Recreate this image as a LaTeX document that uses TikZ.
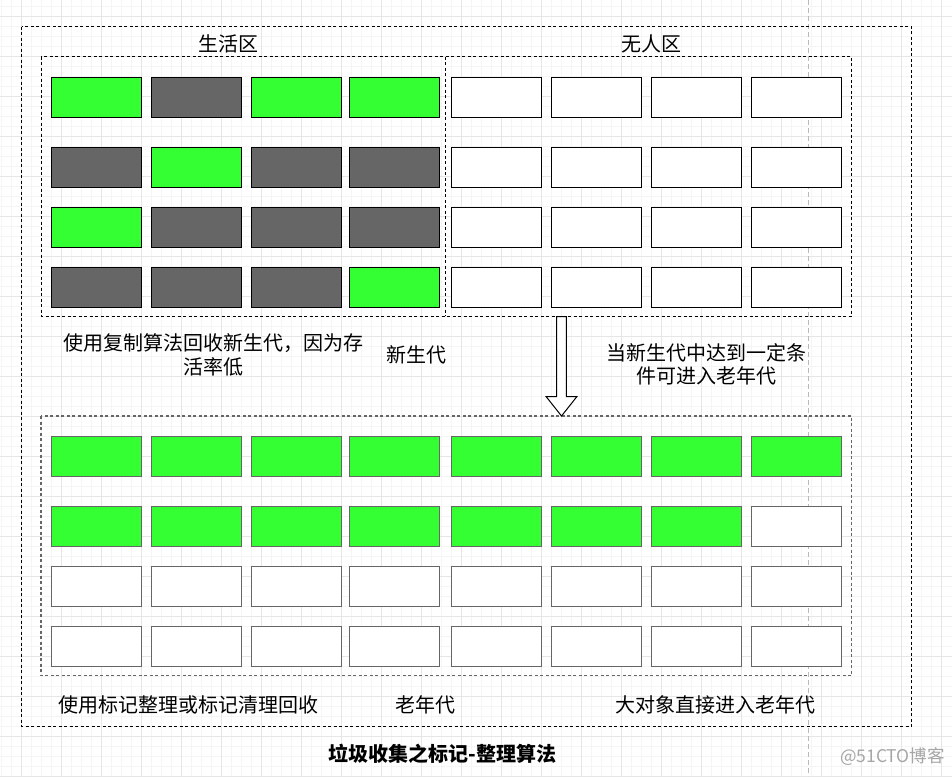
\documentclass[tikz,border=0pt]{standalone}
\usepackage{fontspec}
\setmainfont{Noto Sans CJK SC}
\definecolor{cg}{HTML}{33FF33}
\definecolor{cd}{HTML}{666666}
\definecolor{cw}{HTML}{FFFFFF}
\definecolor{gridmin}{HTML}{F5F5F5}
\definecolor{gridmaj}{HTML}{E6E6E6}
\begin{document}
\begin{tikzpicture}[x=1pt,y=-1pt,
  ycell/.style={draw=black,line width=1pt,minimum width=90pt,minimum height=40pt,inner sep=0pt,anchor=north west},
  ocell/.style={draw=cd,line width=1.4pt,minimum width=90pt,minimum height=40pt,inner sep=0pt,anchor=north west},
  zone/.style={draw=black,line width=0.9pt,dash pattern=on 3pt off 2.5pt},
  ozone/.style={draw=cd,line width=1.1pt,dash pattern=on 3pt off 2.5pt},
  lbl/.style={font=\fontsize{20}{23.4}\selectfont,align=center,inner sep=0pt},
]
\useasboundingbox (0,0) rectangle (952,776);
\fill[white] (0,0) rectangle (952,776);
% grid
\foreach \gx in {1.7,11.7,...,951}{\draw[gridmin,line width=0.6pt] (\gx,0) -- (\gx,776);}
\foreach \gy in {6,16,...,776}{\draw[gridmin,line width=0.6pt] (0,\gy) -- (952,\gy);}
\foreach \gx in {21.7,61.7,...,951}{\draw[gridmaj,line width=0.8pt] (\gx,0) -- (\gx,776);}
\foreach \gy in {16,56,...,776}{\draw[gridmaj,line width=0.8pt] (0,\gy) -- (952,\gy);}
% page break line
\coordinate (pbT) at (808.3,0);
\coordinate (pbB) at (808.3,776);
\draw[gray!55,line width=0.8pt,dash pattern=on 5pt off 3pt] (pbT) -- (pbB);
% outer frame
\draw[zone] (21.7,26.7) rectangle (911.7,726.7);
% young generation zone
\draw[zone] (41,56.7) rectangle (851.7,316);
\coordinate (divT) at (445.6,56.7);
\coordinate (divB) at (445.6,316);
\draw[zone] (divT) -- (divB);
% old generation zone
\draw[ozone] (41,416) rectangle (851.7,675.7);
\def\xs{{51,151,251,349,451,551,651,751}}
% young cells
\foreach \r/\yt/\fl in {1/76.7/{g,d,g,g,w,w,w,w},2/146.7/{d,g,d,d,w,w,w,w},3/206.7/{g,d,d,d,w,w,w,w},4/266.7/{d,d,d,g,w,w,w,w}}{
  \foreach \f [count=\c] in \fl {
    \pgfmathsetmacro\xx{\xs[\c-1]}
    \node[ycell,fill=c\f] (y\r\c) at (\xx,\yt) {};
  }
}
% old cells
\foreach \r/\yt/\fl in {1/436/{g,g,g,g,g,g,g,g},2/506/{g,g,g,g,g,g,g,w},3/566/{w,w,w,w,w,w,w,w},4/626/{w,w,w,w,w,w,w,w}}{
  \foreach \f [count=\c] in \fl {
    \pgfmathsetmacro\xx{\xs[\c-1]}
    \node[ocell,fill=c\f] (o\r\c) at (\xx,\yt) {};
  }
}
% block arrow
\coordinate (aT) at (561.5,316.5);
\coordinate (aB) at (561.5,416);
\draw[black,line width=1pt,fill=white,line join=miter]
  ([xshift=-4.8pt]aT) -- ([xshift=-4.8pt,yshift=19.3pt]aB) -- ([xshift=-15.3pt,yshift=19.3pt]aB)
  -- (aB) -- ([xshift=15.3pt,yshift=19.3pt]aB) -- ([xshift=4.8pt,yshift=19.3pt]aB) -- ([xshift=4.8pt]aT) -- cycle;
% labels
\node[lbl] (tLive) at (228,44) {生活区};
\node[lbl] (tEmpty) at (651.7,44) {无人区};
\node[lbl] (tCopy) at (213.5,355) {使用复制算法回收新生代，因为存\\活率低};
\node[lbl] (tYoung) at (416.7,355) {新生代};
\node[lbl] (tCond) at (706.7,364.3) {当新生代中达到一定条\\件可进入老年代};
\node[lbl] (tMark) at (188.3,705) {使用标记整理或标记清理回收};
\node[lbl] (tOld) at (425.8,705) {老年代};
\node[lbl] (tBig) at (715.8,705) {大对象直接进入老年代};
\node[lbl,font=\fontsize{20}{24}\selectfont\bfseries] (tTitle) at (442.5,754) {垃圾收集之标记-整理算法};
\node[lbl,font=\fontsize{17.5}{20}\selectfont,text=gray!70] (tMark2) at (892.5,756.5) {@51CTO博客};
\end{tikzpicture}
\end{document}
